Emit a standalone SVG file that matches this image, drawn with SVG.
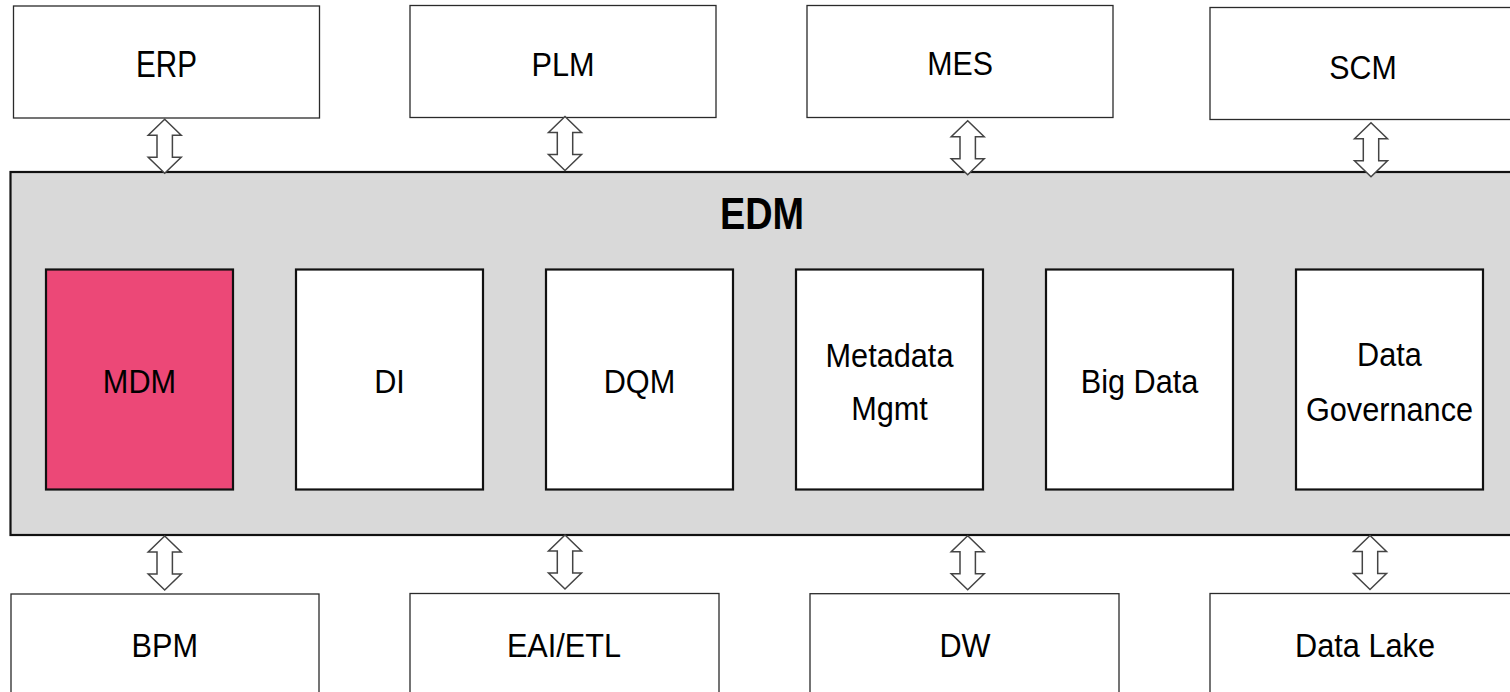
<svg xmlns="http://www.w3.org/2000/svg" xmlns:xlink="http://www.w3.org/1999/xlink" width="1510" height="692" viewBox="0 0 1510 692">
<style>
.sys{fill:#ffffff;stroke:#2a2a2a;stroke-width:1.3}
.edm{fill:#d9d9d9;stroke:#111111;stroke-width:2.2}
.mod{fill:#ffffff;stroke:#111111;stroke-width:2.2}
.mdm{fill:#ec4877}
.arr{fill:#ffffff;stroke:#444444;stroke-width:1.5;stroke-linejoin:miter}
text{font-family:"Liberation Sans",Arial,sans-serif;fill:#000000;text-anchor:middle}
.t{font-size:33px}
.b{font-size:44px;font-weight:bold}
</style>
<defs>
<path id="dbl" class="arr" d="M0,0 L16.5,16 L7.7,16 L7.7,38 L16.5,38 L0,54 L-16.5,38 L-7.7,38 L-7.7,16 L-16.5,16 Z"/>
</defs>

<g id="edm">
<rect class="edm" x="10.5" y="172" width="1512" height="363"/>
<text class="b" transform="translate(762,228.5) scale(0.86,1)">EDM</text>
</g>

<g id="erp"><rect class="sys" x="13.5" y="6" width="306" height="112"/><text class="t" transform="translate(166.5,76.7) scale(0.8,1)" style="font-size:37px">ERP</text></g>
<g id="plm"><rect class="sys" x="410" y="5.5" width="306" height="112"/><text class="t" transform="translate(563,76) scale(0.93,1)">PLM</text></g>
<g id="mes"><rect class="sys" x="807" y="5.5" width="306" height="112"/><text class="t" transform="translate(960,75) scale(0.92,1)">MES</text></g>
<g id="scm"><rect class="sys" x="1210" y="7.5" width="306" height="112"/><text class="t" transform="translate(1363,78.5) scale(0.92,1)">SCM</text></g>

<g id="mdm"><rect class="mod mdm" x="46" y="269.5" width="187" height="220"/><text class="t" transform="translate(139.5,392.5) scale(0.93,1)">MDM</text></g>
<g id="di"><rect class="mod" x="296" y="269.5" width="187" height="220"/><text class="t" transform="translate(389.5,392.5) scale(0.93,1)">DI</text></g>
<g id="dqm"><rect class="mod" x="546" y="269.5" width="187" height="220"/><text class="t" transform="translate(639.5,393) scale(0.93,1)">DQM</text></g>
<g id="metadata"><rect class="mod" x="796" y="269.5" width="187" height="220"/><text class="t" transform="translate(889.5,366.5) scale(0.93,1)">Metadata</text><text class="t" transform="translate(889.5,420) scale(0.93,1)">Mgmt</text></g>
<g id="bigdata"><rect class="mod" x="1046" y="269.5" width="187" height="220"/><text class="t" transform="translate(1139.5,393) scale(0.93,1)">Big Data</text></g>
<g id="governance"><rect class="mod" x="1296" y="269.5" width="187" height="220"/><text class="t" transform="translate(1389.5,366) scale(0.93,1)">Data</text><text class="t" transform="translate(1389.5,420.5) scale(0.93,1)">Governance</text></g>

<g id="bpm"><rect class="sys" x="11" y="594" width="308" height="112"/><text class="t" transform="translate(164.7,657.3) scale(0.93,1)">BPM</text></g>
<g id="eai"><rect class="sys" x="410" y="593.5" width="309" height="112"/><text class="t" transform="translate(564,657.3) scale(0.93,1)">EAI/ETL</text></g>
<g id="dw"><rect class="sys" x="810" y="593.7" width="309" height="112"/><text class="t" transform="translate(965,656.7) scale(0.93,1)">DW</text></g>
<g id="datalake"><rect class="sys" x="1210" y="593.5" width="309" height="112"/><text class="t" transform="translate(1365,656.7) scale(0.93,1)">Data Lake</text></g>

<g id="connectors">
<use xlink:href="#dbl" transform="translate(164.7,119.3)"/>
<use xlink:href="#dbl" transform="translate(565,116.5)"/>
<use xlink:href="#dbl" transform="translate(967.7,120.7)"/>
<use xlink:href="#dbl" transform="translate(1371,122.7)"/>
<use xlink:href="#dbl" transform="translate(164.7,536)"/>
<use xlink:href="#dbl" transform="translate(565,535)"/>
<use xlink:href="#dbl" transform="translate(967.7,535.7)"/>
<use xlink:href="#dbl" transform="translate(1370,535.5)"/>
</g>
</svg>
